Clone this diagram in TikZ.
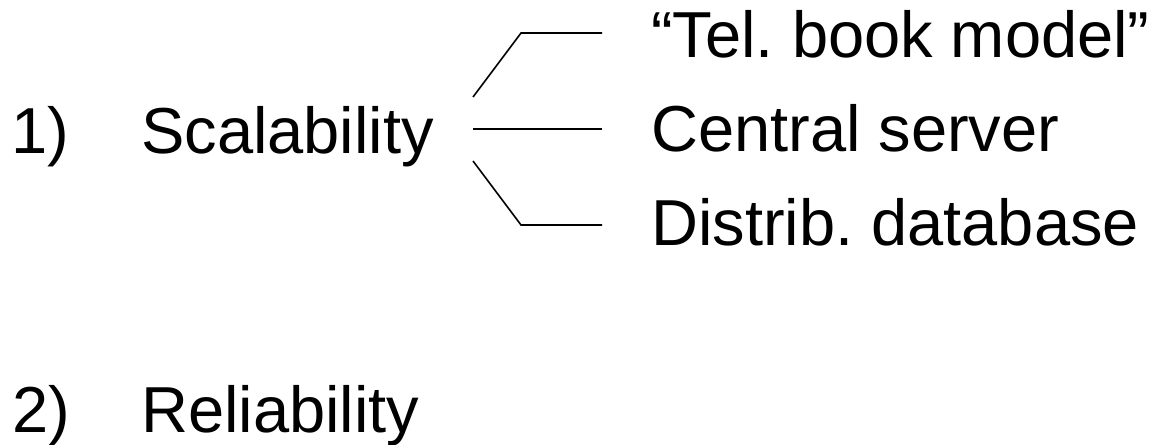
\documentclass[tikz,border=0pt]{standalone}
\usepackage{fontspec}
\setmainfont{Liberation Sans}
\frenchspacing
\begin{document}
\begin{tikzpicture}[x=1pt,y=-1pt,
  lbl/.style={anchor=base west,inner sep=0pt,font=\fontsize{65}{78}\selectfont},
  conn/.style={line width=1.6pt,line join=miter}]
\useasboundingbox (0,0) rectangle (1155,444);
\node[lbl] (n1) at (11,153) {1)};
\node[lbl] (s) at (141,153) {Scalability};
\node[lbl] (n2) at (12,432) {2)};
\node[lbl] (r) at (141,432) {Reliability};
\node[lbl] (tel) at (651,57) {“Tel. book model”};
\node[lbl] (cs) at (651,151) {Central server};
\node[lbl] (db) at (651,245) {Distrib. database};
\coordinate (a1) at (473,97);
\coordinate (a2) at (521,33);
\coordinate (a3) at (602,33);
\coordinate (b1) at (473,129);
\coordinate (b2) at (602,129);
\coordinate (c1) at (473,161);
\coordinate (c2) at (521,225);
\coordinate (c3) at (602,225);
\draw[conn] (a1) -- (a2) -- (a3);
\draw[conn] (b1) -- (b2);
\draw[conn] (c1) -- (c2) -- (c3);
\end{tikzpicture}
\end{document}
